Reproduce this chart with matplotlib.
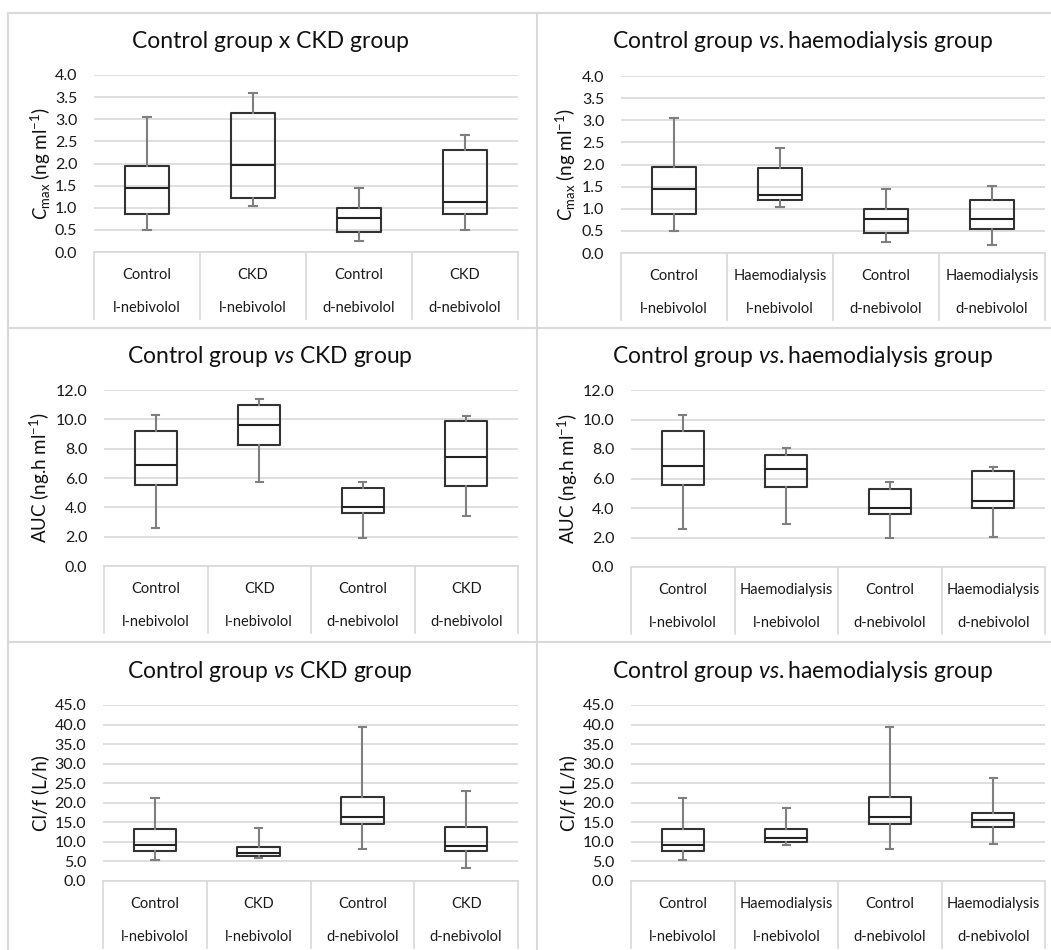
import matplotlib
matplotlib.use("Agg")
import matplotlib.pyplot as plt
from matplotlib.lines import Line2D
import matplotlib.transforms as mtransforms

plt.rcParams['font.family'] = ['Lato', 'DejaVu Sans']
plt.rcParams['mathtext.fontset'] = 'custom'
plt.rcParams['mathtext.rm'] = 'Lato'
plt.rcParams['mathtext.it'] = 'Lato:italic'

W, H = 1051, 950

# box stats per group: [whisker low, Q1, median, Q3, whisker high]
cmax_ckd = [[0.50, 0.87, 1.45, 1.94, 3.06],
            [1.05, 1.22, 1.97, 3.15, 3.60],
            [0.25, 0.45, 0.77, 0.99, 1.44],
            [0.50, 0.87, 1.12, 2.31, 2.64]]
cmax_hd = [[0.50, 0.88, 1.45, 1.95, 3.05],
           [1.05, 1.20, 1.32, 1.93, 2.38],
           [0.25, 0.45, 0.77, 0.99, 1.45],
           [0.18, 0.54, 0.77, 1.19, 1.51]]
auc_ckd = [[2.60, 5.55, 6.87, 9.18, 10.32],
           [5.76, 8.28, 9.64, 10.98, 11.41],
           [1.93, 3.58, 4.00, 5.31, 5.76],
           [3.40, 5.46, 7.46, 9.91, 10.23]]
auc_hd = [[2.60, 5.58, 6.85, 9.20, 10.33],
          [2.89, 5.42, 6.62, 7.60, 8.05],
          [1.94, 3.56, 4.00, 5.27, 5.74],
          [2.01, 4.02, 4.45, 6.49, 6.78]]
cl_ckd = [[5.4, 7.7, 9.2, 13.4, 21.2],
          [5.8, 6.4, 7.1, 8.6, 13.6],
          [8.3, 14.5, 16.4, 21.5, 39.4],
          [3.2, 7.7, 8.9, 13.9, 22.9]]
cl_hd = [[5.4, 7.7, 9.2, 13.4, 21.2],
         [9.2, 10.0, 11.1, 13.3, 18.6],
         [8.3, 14.5, 16.4, 21.5, 39.4],
         [9.5, 13.9, 15.7, 17.3, 26.3]]

groups_ckd = ['Control', 'CKD', 'Control', 'CKD']
groups_hd = ['Control', 'Haemodialysis', 'Control', 'Haemodialysis']
drugs = ['l-nebivolol', 'l-nebivolol', 'd-nebivolol', 'd-nebivolol']

title_ckd = ['Control group x CKD group',
             r'Control group $\it{vs}$ CKD group',
             r'Control group $\it{vs}$ CKD group']
title_hd = r'Control group $\it{vs.}$haemodialysis group'
ylabels = [r'$C_{\mathrm{max}}$ (ng ml$^{\mathrm{-1}}$)',
           r'AUC (ng.h ml$^{\mathrm{-1}}$)',
           'Cl/f (L/h)']
ymaxes = [4.0, 12.0, 45.0]
ysteps = [0.5, 2.0, 5.0]

fig = plt.figure(figsize=(W / 100, H / 100), dpi=100)
fig.patch.set_facecolor('white')

grey = '#d9d9d9'
txt = '#1a1a1a'


def fx(px):
    return px / W


def fy(py):
    return 1 - py / H


# panel borders
for x0, x1, y0, y1 in [(8, W, 13, 13), (8, W, 328, 328), (8, W, 642, 642),
                       (8, 8, 13, H), (537, 537, 13, H)]:
    fig.add_artist(Line2D([fx(x0), fx(x1)], [fy(y0), fy(y1)], color=grey, lw=1.5))

# (left, right, top, bottom, ylabel x) in pixels
rows = [(13, [(94, 518, 75, 252, 41), (621, 1045, 76, 253, 566)]),
        (328, [(104, 518, 390, 566, 40), (631, 1045, 390, 567, 568)]),
        (642, [(103, 518, 705, 881, 40), (631, 1045, 705, 881, 568)])]

data = [(cmax_ckd, cmax_hd), (auc_ckd, auc_hd), (cl_ckd, cl_hd)]


def draw_panel(l, r, t, b, ylx, stats, groups, title, ylabel, ymax, ystep, ytitle, xtitle):
    ax = fig.add_axes([fx(l), fy(b), fx(r - l), (b - t) / H])
    bxp_stats = []
    for s in stats:
        bxp_stats.append({'whislo': s[0], 'q1': s[1], 'med': s[2], 'q3': s[3],
                          'whishi': s[4], 'fliers': []})
    ax.bxp(bxp_stats, positions=[1, 2, 3, 4], widths=0.41, showfliers=False,
           manage_ticks=False,
           boxprops=dict(color='#333333', lw=1.5),
           medianprops=dict(color='#222222', lw=1.5),
           whiskerprops=dict(color='#7f7f7f', lw=1.5),
           capprops=dict(color='#7f7f7f', lw=1.5),
           capwidths=0.07)

    ax.set_ylim(0, ymax)
    ax.set_xlim(0.5, 4.5)
    ticks = [i * ystep for i in range(int(round(ymax / ystep)) + 1)]
    ax.set_yticks(ticks)
    ax.set_yticklabels(['%.1f' % v for v in ticks], fontsize=11.5, color=txt)
    ax.tick_params(axis='y', length=0, pad=12)
    ax.set_xticks([])
    for s in ax.spines.values():
        s.set_visible(False)
    ax.grid(axis='y', color=grey, lw=1.2)
    ax.set_axisbelow(True)

    # category table below axis
    trans = mtransforms.blended_transform_factory(ax.transData, ax.transAxes)
    h = b - t
    cell = 67 / h
    ax.plot([0.5, 4.5], [0, 0], color=grey, lw=1.2, transform=trans, clip_on=False)
    for xv in [0.5, 1.5, 2.5, 3.5, 4.5]:
        ax.plot([xv, xv], [0, -cell], color=grey, lw=1.2, transform=trans, clip_on=False)
    for i, (g, d) in enumerate(zip(groups, drugs)):
        ax.text(i + 1, -23 / h, g, transform=trans, ha='center', va='center',
                fontsize=10.5, color=txt)
        ax.text(i + 1, -56 / h, d, transform=trans, ha='center', va='center',
                fontsize=10.5, color=txt)

    fig.text(fx(xtitle), fy(ytitle), title, ha='center', va='center',
             fontsize=16.5, color='#111111')
    fig.text(fx(ylx), fy((t + b) / 2), ylabel, ha='center', va='center',
             rotation=90, fontsize=13.5, color='#111111')
    return ax


for k, (top, boxes) in enumerate(rows):
    ckd, hd = data[k]
    (l1, r1, t1, b1, y1), (l2, r2, t2, b2, y2) = boxes
    draw_panel(l1, r1, t1, b1, y1, ckd, groups_ckd, title_ckd[k], ylabels[k],
               ymaxes[k], ysteps[k], top + 29, 270)
    draw_panel(l2, r2, t2, b2, y2, hd, groups_hd, title_hd, ylabels[k],
               ymaxes[k], ysteps[k], top + 29, 803)

fig.savefig('out.png', dpi=100, facecolor='white')
